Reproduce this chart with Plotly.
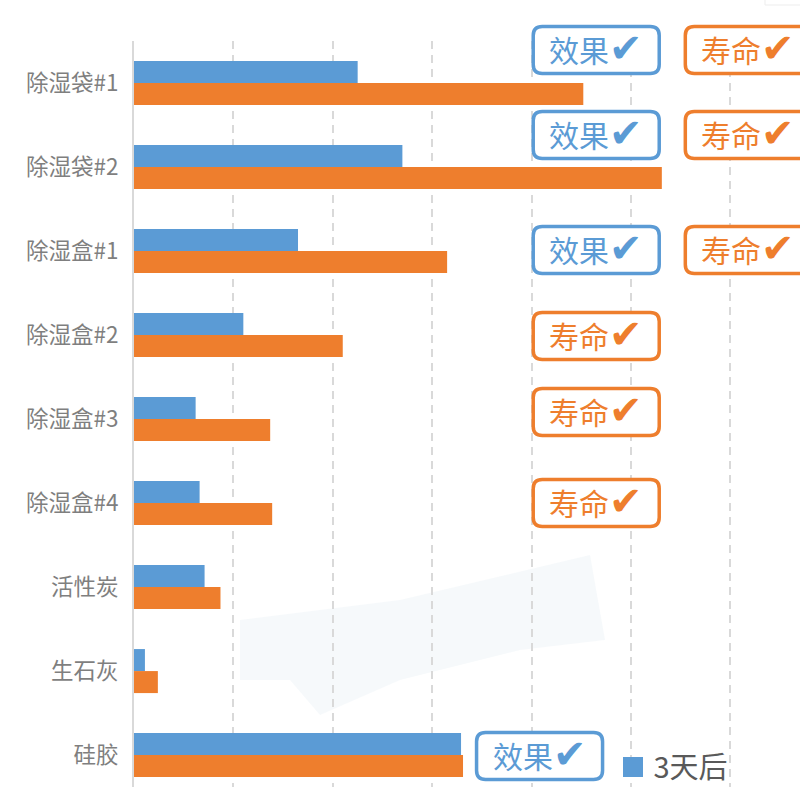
import plotly.graph_objects as go

categories = ["除湿袋#1", "除湿袋#2", "除湿盒#1", "除湿盒#2", "除湿盒#3", "除湿盒#4", "活性炭", "生石灰", "硅胶"]
after_3_days = [22.5, 27.0, 16.5, 11.0, 6.2, 6.6, 7.1, 1.1, 32.9]
later_series = [45.2, 53.1, 31.5, 21.0, 13.7, 13.9, 8.7, 2.4, 33.1]
series_name = "3天后"
effect_word = "效果"
life_word = "寿命"
check_mark = "✔"

BLUE = "#5B9BD5"
ORANGE = "#EE7E2D"
GRID = "#D9D9D9"

X_MAX = 67
Y_RANGE = [8.38, -0.5]
W, H = 800, 787
L, T = 134, 41

# badge layout: (category index, word, colour, x position on value axis, pixel shift up from band centre)
badges = [
    (0, effect_word, BLUE, 46.5, 33),
    (0, life_word, ORANGE, 61.8, 33),
    (1, effect_word, BLUE, 46.5, 32),
    (1, life_word, ORANGE, 61.8, 32),
    (2, effect_word, BLUE, 46.5, 1),
    (2, life_word, ORANGE, 61.8, 1),
    (3, life_word, ORANGE, 46.5, -1),
    (4, life_word, ORANGE, 46.5, 7),
    (5, life_word, ORANGE, 46.5, 0),
    (8, effect_word, BLUE, 40.8, -1),
]


def px_x(p):
    return (p - L) / (W - L)


def px_y(p):
    return (H - p) / (H - T)


def rounded(cy, w=126, h=47, r=9):
    hw, hh = w / 2, h / 2
    t, b = cy + hh, cy - hh
    return (
        f"M{-hw + r},{b} L{hw - r},{b} Q{hw},{b} {hw},{b + r} L{hw},{t - r} Q{hw},{t} {hw - r},{t} "
        f"L{-hw + r},{t} Q{-hw},{t} {-hw},{t - r} L{-hw},{b + r} Q{-hw},{b} {-hw + r},{b} Z"
    )


fig = go.Figure()
fig.add_trace(go.Bar(y=categories, x=after_3_days, orientation="h", marker=dict(color=BLUE, line_width=0),
                     name=series_name, showlegend=False))
fig.add_trace(go.Bar(y=categories, x=later_series, orientation="h", marker=dict(color=ORANGE, line_width=0),
                     name="后期", showlegend=False))
fig.add_trace(go.Scatter(x=[None], y=[None], mode="markers", name=series_name,
                         marker=dict(symbol="square", size=12, color=BLUE), showlegend=True))

patch_px = [(240, 620), (400, 600), (590, 555), (605, 640), (520, 650), (400, 680), (320, 715), (290, 680), (240, 680)]
patch_path = "M " + " L ".join(f"{px_x(a):.4f} {px_y(b):.4f}" for a, b in patch_px) + " Z"

shapes = [
    # faint blurred patch behind the chart
    dict(type="path", xref="paper", yref="paper", layer="below", line_width=0,
         fillcolor="rgba(225,235,243,0.3)", path=patch_path),
    # small pale box at the top-right corner of the picture
    dict(type="rect", xref="paper", yref="paper", x0=px_x(765), x1=1.01, y0=px_y(5), y1=px_y(-2),
         line=dict(color="#EDEDED", width=1), fillcolor="white"),
    # larger legend swatch behind the legend's own marker
    dict(type="rect", xref="paper", yref="paper", x0=px_x(623), x1=px_x(643), y0=px_y(777), y1=px_y(757),
         line_width=0, fillcolor=BLUE, layer="above"),
]
annotations = []
n_span = Y_RANGE[0] - Y_RANGE[1]
for idx, word, color, xpos, shift in badges:
    band_y = 1 - (idx - Y_RANGE[1]) / n_span
    shapes.append(dict(type="path", layer="above", xref="paper", yref="paper", xsizemode="pixel", ysizemode="pixel",
                       xanchor=xpos / X_MAX, yanchor=band_y, path=rounded(shift),
                       line=dict(color=color, width=3.5), fillcolor="white"))
    annotations.append(dict(x=xpos, y=categories[idx], xref="x", yref="y",
                            text=f'{word}<span style="font-size:40px">{check_mark}</span>',
                            showarrow=False, yshift=shift + 5,
                            font=dict(size=30, color=color, family="Noto Sans CJK SC, DejaVu Sans")))

fig.update_layout(
    width=W, height=H,
    margin=dict(l=L, r=0, t=T, b=0, autoexpand=False),
    paper_bgcolor="white", plot_bgcolor="white",
    barmode="group", bargap=0.476, bargroupgap=0,
    shapes=shapes, annotations=annotations,
    font=dict(family="Noto Sans CJK SC, DejaVu Sans"),
    xaxis=dict(range=[0, X_MAX], dtick=10, showticklabels=False, zeroline=False, showline=False,
               showgrid=True, gridcolor=GRID, gridwidth=2, griddash="8px,6px", ticks=""),
    yaxis=dict(type="category", categoryorder="array", categoryarray=categories, range=Y_RANGE,
               showline=True, linecolor=GRID, linewidth=2, showgrid=False, zeroline=False, ticks="",
               tickfont=dict(size=22.5, color="#7F7F7F"), ticklabelstandoff=9),
    legend=dict(x=0.72, xanchor="left", y=-0.0065, yanchor="bottom", bgcolor="rgba(0,0,0,0)", borderwidth=0,
                font=dict(size=29, color="#595959"), itemsizing="trace"),
)
fig.write_html("out.html", config={"displayModeBar": False},
               post_script="document.body.style.margin='0';document.body.style.overflow='hidden';")
